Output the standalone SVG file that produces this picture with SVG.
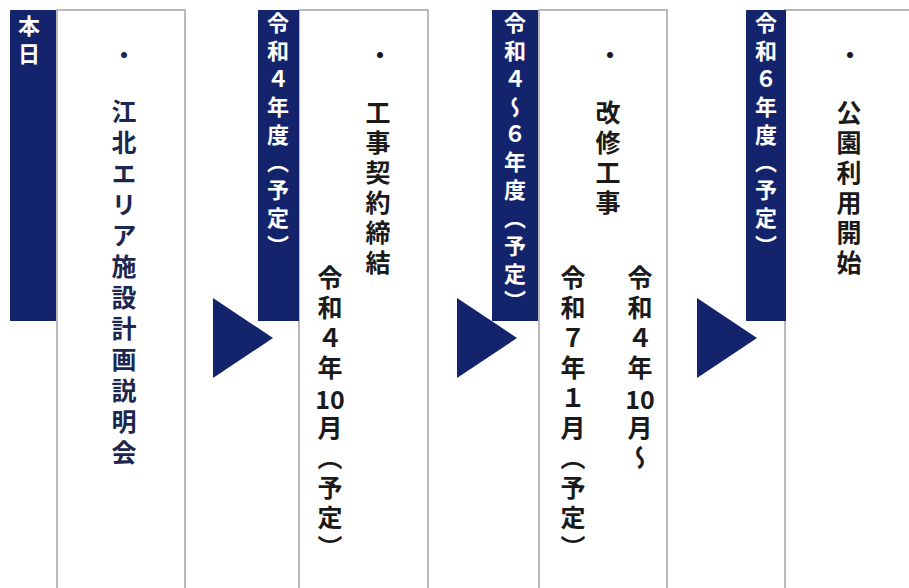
<svg xmlns="http://www.w3.org/2000/svg" width="909" height="588" viewBox="0 0 909 588">
<style>
.box{fill:#ffffff;stroke:#a3a3a8;stroke-width:1.5}
.bar{fill:#13246c}
.arrow{fill:#13246c}
.v{writing-mode:vertical-rl;text-orientation:upright;font-family:"Noto Sans CJK JP","Noto Sans",sans-serif;font-weight:bold}
.h{font-family:"Noto Sans CJK JP","Noto Sans",sans-serif;font-weight:bold;text-anchor:middle}
.bt{fill:#ffffff;font-size:22px;letter-spacing:5.8px}
.mt{fill:#1a1a1a;font-size:25px;letter-spacing:5px}
.mt1{fill:#1c2750;font-size:25px;letter-spacing:6px}
.num{fill:#1a1a1a;font-size:25px}
.dot{font-size:24px}
</style>
<rect width="909" height="588" fill="#ffffff"/>
<g id="step1">
<rect class="box" x="57" y="10" width="128" height="600"/>
<rect class="bar" x="10" y="10" width="46" height="311"/>
<text class="v bt" x="29" y="15">本日</text>
<text class="h dot" x="124" y="64" fill="#1c2750">・</text>
<text class="v mt1" x="124" y="99">江北エリア施設計画説明会</text>
</g>
<g id="step2">
<rect class="box" x="299" y="10" width="129" height="600"/>
<rect class="bar" x="258" y="10" width="41" height="311"/>
<text class="v bt" x="278" y="12">令和４年度（予定）</text>
<text class="h dot" x="380" y="64" fill="#1a1a1a">・</text>
<text class="v mt" x="378" y="100">工事契約締結</text>
<text class="v mt" x="330" y="265">令和４年</text>
<text class="h num" x="330" y="409">10</text>
<text class="v mt" x="330" y="415">月（予定）</text>
</g>
<g id="step3">
<rect class="box" x="539" y="10" width="128" height="600"/>
<rect class="bar" x="492" y="10" width="46" height="311"/>
<text class="v bt" x="515" y="12">令和４～６年度（予定）</text>
<text class="h dot" x="610" y="64" fill="#1a1a1a">・</text>
<text class="v mt" x="608" y="100">改修工事</text>
<text class="v mt" x="640" y="265">令和４年</text>
<text class="h num" x="640" y="409">10</text>
<text class="v mt" x="640" y="415">月～</text>
<text class="v mt" x="573" y="265">令和７年１月（予定）</text>
</g>
<g id="step4">
<rect class="box" x="785" y="10" width="140" height="600"/>
<rect class="bar" x="746" y="10" width="40" height="311"/>
<text class="v bt" x="766" y="12">令和６年度（予定）</text>
<text class="h dot" x="850" y="64" fill="#1a1a1a">・</text>
<text class="v mt" x="849" y="100">公園利用開始</text>
</g>
<g id="connectors">
<polygon class="arrow" points="213,298 273,338 213,378"/>
<polygon class="arrow" points="457,298 517,338 457,378"/>
<polygon class="arrow" points="697,298 757,338 697,378"/>
</g>
</svg>
